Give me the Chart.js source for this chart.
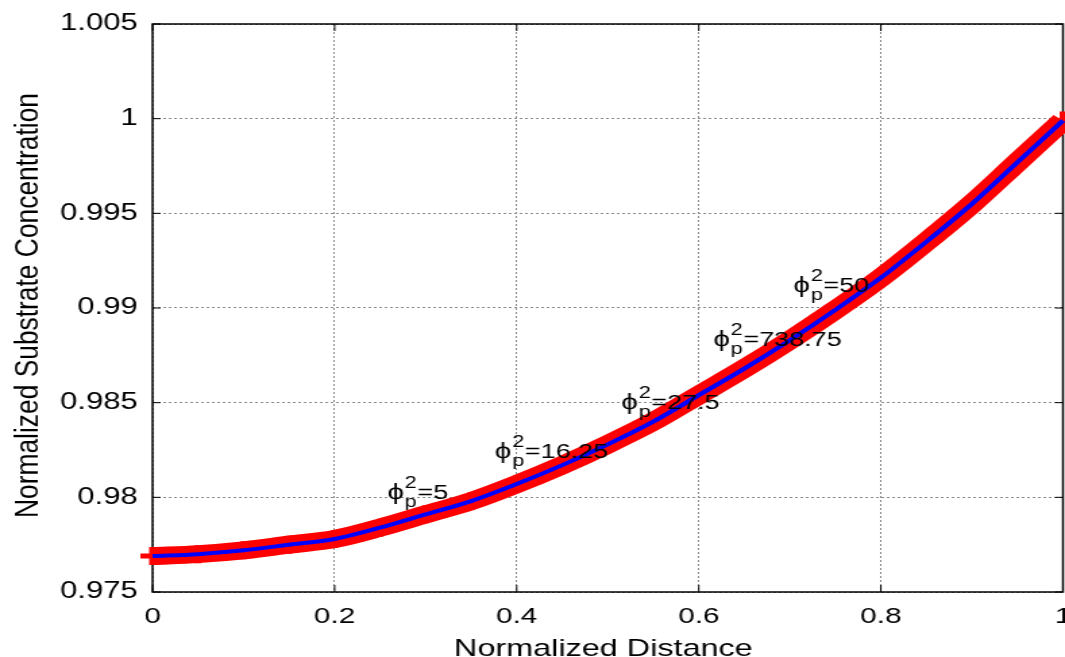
<!DOCTYPE html>
<html>
<head>
<meta charset="utf-8">
<script src="https://cdn.jsdelivr.net/npm/chart.js@4/dist/chart.umd.min.js"></script>
<style>
  html, body { margin: 0; padding: 0; background: #fff; overflow: hidden; }
  /* the original figure is stretched sideways, so draw narrow and widen */
  #wrap { width: 789px; height: 657px; transform: scaleX(1.3498); transform-origin: 0 0; }
</style>
</head>
<body>
<div id="wrap"><canvas id="myChart" width="789" height="657"></canvas></div>
<script>
// data
const distance = [0, 0.05, 0.1, 0.15, 0.2, 0.25, 0.3, 0.35, 0.4, 0.45, 0.5,
                  0.55, 0.6, 0.65, 0.7, 0.75, 0.8, 0.85, 0.9, 0.95, 1];
const concentration = [0.9769, 0.9770, 0.9772, 0.9775, 0.9778, 0.9784, 0.9791, 0.9798, 0.9807, 0.9817, 0.9828,
                       0.9840, 0.9854, 0.9868, 0.9883, 0.9899, 0.9916, 0.9935, 0.9955, 0.9977, 0.9999];

const xTickValues = [0, 0.2, 0.4, 0.6, 0.8, 1];
const xTickLabels = ['0', '0.2', '0.4', '0.6', '0.8', '1'];
const yTickValues = [0.975, 0.98, 0.985, 0.99, 0.995, 1, 1.005];
const yTickLabels = ['0.975', '0.98', '0.985', '0.99', '0.995', '1', '1.005'];

// phi_p^2 labels (position of the phi, on the text baseline)
const phiX = [0.258, 0.376, 0.515, 0.616, 0.704];
const phiY = [0.9799, 0.9821, 0.98465, 0.98797, 0.99087];
const phiText = ['=5', '=16.25', '=27.5', '=738.75', '=50'];

const xTitle = 'Normalized Distance';
const yTitle = 'Normalized Substrate Concentration';

const FONT = 'Arial, "Liberation Sans", "DejaVu Sans", sans-serif';

const points = distance.map((d, i) => ({x: d, y: concentration[i]}));

const framePlugin = {
  id: 'frame',
  beforeDatasetsDraw(chart) {
    const {ctx, chartArea: a, scales: {x, y}} = chart;
    ctx.save();
    ctx.strokeStyle = '#000';
    ctx.lineWidth = 1.5;
    ctx.strokeRect(a.left, a.top, a.right - a.left, a.bottom - a.top);
    ctx.lineWidth = 1;
    ctx.beginPath();
    xTickValues.forEach(v => {
      const px = x.getPixelForValue(v);
      ctx.moveTo(px, a.bottom); ctx.lineTo(px, a.bottom - 7);
      ctx.moveTo(px, a.top); ctx.lineTo(px, a.top + 7);
    });
    yTickValues.forEach(v => {
      const py = y.getPixelForValue(v);
      ctx.moveTo(a.left, py); ctx.lineTo(a.left + 6, py);
      ctx.moveTo(a.right, py); ctx.lineTo(a.right - 6, py);
    });
    ctx.stroke();
    ctx.restore();
  },
  afterDraw(chart) {
    const {ctx, chartArea: a, scales: {x}} = chart;
    ctx.save();
    ctx.fillStyle = '#000';
    ctx.textBaseline = 'alphabetic';
    ctx.textAlign = 'center';

    // x tick labels (drawn here so the last one may run off the edge)
    ctx.font = '22px ' + FONT;
    xTickValues.forEach((v, i) => {
      ctx.fillText(xTickLabels[i], x.getPixelForValue(v), a.bottom + 31);
    });

    ctx.font = '24px ' + FONT;
    ctx.fillText(xTitle, 447, 656);

    ctx.translate(28, 305.5);
    ctx.rotate(-Math.PI / 2);
    ctx.font = '23px ' + FONT;
    const w = ctx.measureText(yTitle).width;
    ctx.scale(425 / w, 1);
    ctx.fillText(yTitle, 0, 0);
    ctx.restore();
  }
};

const phiLabels = {
  id: 'phiLabels',
  afterDatasetsDraw(chart) {
    const {ctx, scales: {x, y}} = chart;
    ctx.save();
    ctx.fillStyle = '#000';
    ctx.textBaseline = 'alphabetic';
    ctx.textAlign = 'left';
    phiX.forEach((vx, i) => {
      let px = x.getPixelForValue(vx);
      const py = y.getPixelForValue(phiY[i]);
      ctx.font = '22px ' + FONT;
      ctx.fillText('\u03D5', px, py);
      px += ctx.measureText('\u03D5').width + 0.5;
      ctx.font = '16px ' + FONT;
      ctx.fillText('2', px, py - 11);
      ctx.fillText('p', px, py + 8);
      px += Math.max(ctx.measureText('2').width, ctx.measureText('p').width) + 0.5;
      ctx.font = '20px ' + FONT;
      ctx.fillText(phiText[i], px, py);
    });
    ctx.restore();
  }
};

new Chart(document.getElementById('myChart'), {
  type: 'line',
  data: {
    datasets: [{
      data: points,
      borderColor: '#0000ff',
      borderWidth: 4,
      pointRadius: 0,
      cubicInterpolationMode: 'monotone',
      fill: false,
      clip: false,
      order: 0
    }, {
      data: points,
      borderColor: '#ff0000',
      borderWidth: 18,
      borderCapStyle: 'butt',
      cubicInterpolationMode: 'monotone',
      pointStyle: 'cross',
      pointRadius: 9,
      pointBorderWidth: 5,
      pointBorderColor: '#ff0000',
      pointBackgroundColor: '#ff0000',
      fill: false,
      clip: false,
      order: 1
    }]
  },
  options: {
    responsive: false,
    animation: false,
    events: [],
    layout: { autoPadding: false, padding: { top: 24, right: 1.5, left: 0, bottom: 0 } },
    plugins: {
      legend: { display: false },
      tooltip: { enabled: false }
    },
    scales: {
      x: {
        type: 'linear',
        min: 0,
        max: 1,
        afterBuildTicks: s => { s.ticks = xTickValues.map(v => ({value: v})); },
        afterFit: s => { s.height = 65; },
        ticks: { display: false },
        grid: { color: '#8a8a8a', lineWidth: 1, drawTicks: false },
        border: { display: false, dash: [2, 2] }
      },
      y: {
        type: 'linear',
        min: 0.975,
        max: 1.005,
        afterBuildTicks: s => { s.ticks = yTickValues.map(v => ({value: v})); },
        afterFit: s => { s.width = 113; s.paddingTop = 0; s.paddingBottom = 0; },
        ticks: {
          callback: (v, i) => yTickLabels[i],
          color: '#000',
          font: { family: FONT, size: 23 },
          padding: 11,
          autoSkip: false
        },
        grid: { color: '#8a8a8a', lineWidth: 1, drawTicks: false },
        border: { display: false, dash: [2, 2] }
      }
    }
  },
  plugins: [framePlugin, phiLabels]
});
</script>
</body>
</html>
